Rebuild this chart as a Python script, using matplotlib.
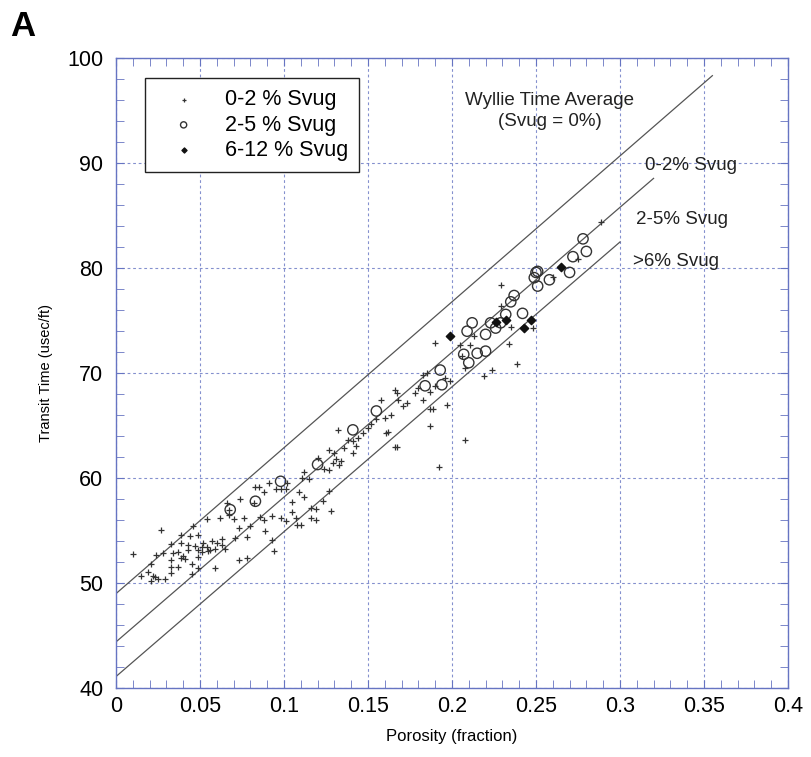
import numpy as np
import matplotlib.pyplot as plt
from matplotlib.ticker import MultipleLocator

plt.rcParams['font.family'] = ['Liberation Sans', 'DejaVu Sans']

# 0-2 % Svug samples (porosity fraction, transit time usec/ft)
phi_low = [0.010, 0.015, 0.019, 0.021, 0.021, 0.022, 0.023, 0.024, 0.025, 0.027,
           0.028, 0.029, 0.033, 0.033, 0.033, 0.033, 0.034, 0.037, 0.037, 0.039,
           0.039, 0.039, 0.040, 0.041, 0.043, 0.043, 0.044, 0.045, 0.045, 0.046,
           0.047, 0.049, 0.049, 0.049, 0.049, 0.051, 0.051, 0.052, 0.054, 0.054,
           0.055, 0.056, 0.057, 0.059, 0.059, 0.060, 0.062, 0.063, 0.063, 0.065,
           0.066, 0.067, 0.067, 0.070, 0.071, 0.073, 0.074, 0.073, 0.076, 0.078,
           0.078, 0.080, 0.082, 0.083, 0.085, 0.086, 0.088, 0.088, 0.089, 0.091,
           0.093, 0.093, 0.094, 0.095, 0.098, 0.101, 0.098, 0.101, 0.102, 0.105,
           0.105, 0.107, 0.108, 0.109, 0.111, 0.112, 0.112, 0.110, 0.116, 0.115,
           0.116, 0.119, 0.119, 0.120, 0.123, 0.124, 0.127, 0.127, 0.127, 0.128,
           0.129, 0.130, 0.131, 0.132, 0.133, 0.134, 0.138, 0.141, 0.141, 0.144,
           0.147, 0.161, 0.166, 0.158, 0.160, 0.162, 0.164, 0.166, 0.167, 0.167,
           0.168, 0.173, 0.178, 0.183, 0.183, 0.185, 0.187, 0.187, 0.187, 0.189,
           0.190, 0.192, 0.196, 0.197, 0.190, 0.199, 0.205, 0.206, 0.208, 0.208,
           0.211, 0.213, 0.219, 0.224, 0.229, 0.229, 0.234, 0.235, 0.239, 0.248,
           0.260, 0.275, 0.289, 0.180, 0.171, 0.152, 0.155, 0.143, 0.150, 0.136]
dt_low = [52.8, 50.7, 51.1, 51.8, 50.2, 50.7, 50.6, 52.7, 50.4, 55.1,
          52.9, 50.4, 53.7, 52.2, 51.5, 51.0, 52.9, 53.0, 51.5, 54.6,
          53.8, 52.4, 52.6, 52.3, 53.2, 53.6, 54.5, 51.8, 50.9, 55.4,
          53.5, 53.2, 52.5, 51.4, 54.6, 53.0, 53.4, 53.8, 56.1, 53.4,
          53.1, 53.2, 54.0, 53.3, 51.4, 53.8, 56.2, 54.2, 53.6, 53.3,
          57.6, 56.5, 57.0, 56.1, 54.3, 55.3, 58.0, 52.2, 56.2, 52.4,
          54.4, 55.4, 57.6, 59.2, 59.2, 56.3, 56.0, 58.7, 55.0, 59.5,
          56.4, 54.1, 53.1, 59.0, 59.0, 59.0, 56.2, 55.9, 59.5, 57.7,
          56.8, 56.2, 55.5, 58.7, 60.0, 58.2, 60.6, 55.5, 57.2, 59.9,
          56.2, 56.0, 57.1, 61.9, 57.8, 60.9, 58.8, 60.8, 62.7, 56.9,
          61.4, 62.4, 61.8, 64.6, 61.3, 61.6, 63.6, 62.4, 63.5, 63.8,
          64.3, 64.3, 63.0, 67.4, 65.7, 64.4, 66.0, 68.4, 63.0, 68.1,
          67.4, 67.2, 68.1, 67.4, 69.8, 70.0, 68.2, 65.0, 66.6, 66.6,
          68.8, 61.1, 69.5, 67.0, 72.9, 69.3, 72.7, 71.6, 70.5, 63.6,
          72.7, 73.5, 69.7, 70.3, 78.4, 76.4, 72.8, 74.4, 70.9, 74.3,
          79.2, 80.9, 84.4, 68.6, 66.9, 65.2, 65.6, 63.1, 64.8, 62.9]

# 2-5 % Svug samples
phi_mid = [0.068, 0.083, 0.098, 0.120, 0.141, 0.155, 0.184, 0.193, 0.194, 0.207,
           0.209, 0.210, 0.212, 0.215, 0.220, 0.220, 0.223, 0.226, 0.229, 0.232,
           0.235, 0.237, 0.242, 0.249, 0.250, 0.251, 0.251, 0.258, 0.270, 0.272,
           0.278, 0.280]
dt_mid = [57.0, 57.8, 59.7, 61.3, 64.6, 66.4, 68.8, 70.3, 68.9, 71.8,
          74.0, 71.0, 74.8, 71.9, 72.1, 73.7, 74.8, 74.3, 74.8, 75.6,
          76.8, 77.4, 75.7, 79.1, 79.6, 79.7, 78.3, 78.9, 79.6, 81.1,
          82.8, 81.6]

# 6-12 % Svug samples
phi_high = [0.199, 0.226, 0.232, 0.243, 0.247, 0.265]
dt_high = [73.5, 74.9, 75.1, 74.3, 75.1, 80.1]

# reference lines: intercept, slope, end porosity
line_t0 = [49.0, 44.4, 41.1]
line_slope = [139.0, 138.0, 138.0]
line_end = [0.355, 0.32, 0.30]
line_labels = ['0-2% Svug', '2-5% Svug', '>6% Svug']
label_pos = [(0.315, 89.8), (0.3095, 84.6), (0.3077, 80.6)]

axis_blue = '#6674c2'

fig = plt.figure(figsize=(8.11, 7.57), dpi=100)
ax = fig.add_axes([0.143, 0.091, 0.8286, 0.832])

for t0, m, end in zip(line_t0, line_slope, line_end):
    p = np.array([0.0, end])
    ax.plot(p, t0 + m * p, color='#555555', lw=0.9, zorder=2)

ax.scatter(phi_low, dt_low, marker='+', s=24, color='#333333', linewidths=0.9,
           label='0-2 % Svug', zorder=3)
ax.scatter(phi_mid, dt_mid, marker='o', s=55, facecolors='none', edgecolors='#333333',
           linewidths=1.0, label='2-5 % Svug', zorder=4)
ax.scatter(phi_high, dt_high, marker='D', s=18, color='#111111',
           label='6-12 % Svug', zorder=5)

for txt, (x, y) in zip(line_labels, label_pos):
    ax.text(x, y, txt, fontsize=13.5, ha='left', va='center', color='#222222')
ax.text(0.258, 94.95, 'Wyllie Time Average\n(Svug = 0%)', fontsize=13.5, ha='center',
        va='center', linespacing=1.3, color='#222222')

ax.set_xlim(0, 0.4)
ax.set_ylim(40, 100)
ax.xaxis.set_minor_locator(MultipleLocator(0.01))
ax.yaxis.set_major_locator(MultipleLocator(10))
ax.yaxis.set_minor_locator(MultipleLocator(2))
ax.set_xticks(np.arange(0, 0.401, 0.05))
ax.set_xticklabels(['0', '0.05', '0.1', '0.15', '0.2', '0.25', '0.3', '0.35', '0.4'])

ax.grid(True, which='major', color=axis_blue, linestyle=(0, (2.5, 2.5)), lw=0.8, alpha=0.8)
ax.tick_params(which='both', direction='in', top=True, right=True, color=axis_blue,
               labelsize=15.5, length=6)
ax.tick_params(axis='x', pad=6)
ax.tick_params(axis='y', pad=9)
for s in ax.spines.values():
    s.set_color(axis_blue)
    s.set_linewidth(1.0)

ax.set_xlabel('Porosity (fraction)', fontsize=12, labelpad=8)
ax.set_ylabel('Transit Time (usec/ft)', fontsize=10.5, labelpad=10)

leg = ax.legend(loc='upper left', bbox_to_anchor=(0.043, 0.968), borderaxespad=0,
                fontsize=15.5, fancybox=False, edgecolor='#222222', framealpha=1,
                handlelength=2.6, handletextpad=0.6, labelspacing=0.2, borderpad=0.5,
                markerscale=0.6)
leg.get_frame().set_linewidth(1.0)

fig.text(0.012, 0.965, 'A', fontsize=25, fontweight='bold', ha='left', va='center')

fig.savefig('out.png', dpi=100)
